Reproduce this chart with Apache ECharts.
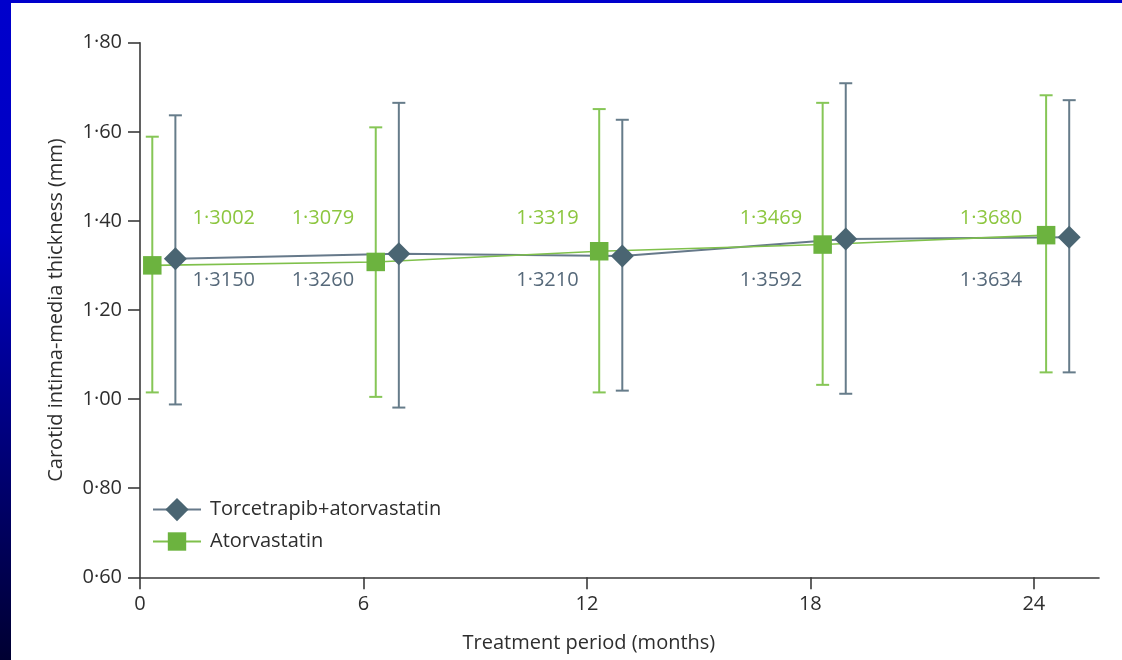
<!DOCTYPE html>
<html>
<head>
<meta charset="utf-8">
<script src="https://cdn.jsdelivr.net/npm/echarts@6/dist/echarts.min.js"></script>
<style>
  html, body { margin: 0; padding: 0; background: #ffffff; }
  #chart { width: 1122px; height: 660px; }
</style>
</head>
<body>
<div id="chart"></div>
<script>
// Visit schedule (months) and carotid intima-media thickness per arm (mm)
const months = [0, 6, 12, 18, 24];

const atorMean = [1.3002, 1.3079, 1.3319, 1.3469, 1.3680];
const atorLow  = [1.015, 1.005, 1.015, 1.032, 1.060];
const atorHigh = [1.589, 1.610, 1.651, 1.665, 1.682];

const torcMean = [1.3150, 1.3260, 1.3210, 1.3592, 1.3634];
const torcLow  = [0.988, 0.981, 1.019, 1.012, 1.060];
const torcHigh = [1.637, 1.665, 1.627, 1.709, 1.671];

const xTicks = [0, 6, 12, 18, 24];
const yTicks = [0.6, 0.8, 1.0, 1.2, 1.4, 1.6, 1.8];

const TORC = 'Torcetrapib+atorvastatin';
const ATOR = 'Atorvastatin';

// Layout: horizontal dodge of each arm, and where the value captions sit
const DODGE = { ator: 0.33, torc: 0.95 };
const CAPTION_MONTH = [2.25, 4.91, 10.94, 16.94, 22.85];
const CAPTION_ROW = { ator: 1.4066, torc: 1.2673 };

const COL = {
  greenLine: '#7fc04b', greenFill: '#6cb33f', greenText: '#8cc63f', greenBar: '#86c656',
  slateLine: '#66798a', slateFill: '#4a6572', slateText: '#56697a', slateBar: '#667c8a',
  axis: '#3a3a3a', text: '#2e2e2e'
};
const FONT = "'Open Sans', 'Liberation Sans', sans-serif";

const dot = (v, d) => v.toFixed(d).replace('.', '\u00b7');

const chart = echarts.init(document.getElementById('chart'), null, { renderer: 'canvas' });

function errorBar(params, api) {
  const x = api.value(0);
  const lo = api.coord([x, api.value(1)]);
  const hi = api.coord([x, api.value(2)]);
  const hw = 6.5;
  const style = { stroke: api.visual('color'), lineWidth: 2 };
  return {
    type: 'group',
    children: [
      { type: 'line', shape: { x1: lo[0], y1: lo[1], x2: hi[0], y2: hi[1] }, style },
      { type: 'line', shape: { x1: hi[0] - hw, y1: hi[1], x2: hi[0] + hw, y2: hi[1] }, style },
      { type: 'line', shape: { x1: lo[0] - hw, y1: lo[1], x2: lo[0] + hw, y2: lo[1] }, style }
    ]
  };
}

function buildOption(shift) {
  const pts = (mean, dodge) => months.map((m, i) => [m + dodge, mean[i]]);
  const bars = (lo, hi, dodge) => months.map((m, i) => [m + dodge, lo[i], hi[i]]);
  const marks = (mean, dodge, key) => months.map((m, i) => ({
    value: [m + dodge, mean[i]],
    label: { offset: shift ? shift[key][i] : [0, 0] }
  }));

  return {
    animation: false,
    backgroundColor: '#ffffff',
    textStyle: { fontFamily: FONT },
    graphic: [
      {
        type: 'rect', left: 0, top: 0, z: -10, silent: true,
        shape: { width: 11, height: 660 },
        style: {
          fill: new echarts.graphic.LinearGradient(0, 0, 0, 1, [
            { offset: 0, color: '#0000cc' },
            { offset: 0.35, color: '#0000c2' },
            { offset: 1, color: '#000032' }
          ])
        }
      },
      {
        type: 'rect', left: 0, top: 0, z: -10, silent: true,
        shape: { width: 1122, height: 3 }, style: { fill: '#0000cc' }
      },
      {
        type: 'text', id: 'xTitle', z: 5,
        x: shift ? shift.xTitle[0] : 586, y: shift ? shift.xTitle[1] : 644,
        style: {
          text: 'Treatment period (months)', fill: COL.text,
          font: "20px " + FONT, align: 'center', verticalAlign: 'middle'
        }
      }
    ],
    grid: { left: 140, right: 23, top: 42.7, bottom: 82.7, outerBoundsMode: 'none', containLabel: false },
    legend: [
      {
        data: [TORC], left: 152, top: 498, orient: 'vertical', padding: 0,
        itemWidth: 48, itemHeight: 29, selectedMode: false,
        textStyle: { fontSize: 20, color: COL.text, fontFamily: FONT, padding: [0, 0, 0, 4] }
      },
      {
        data: [ATOR], left: 152, top: 531.5, orient: 'vertical', padding: 0,
        itemWidth: 48, itemHeight: 23, selectedMode: false,
        textStyle: { fontSize: 20, color: COL.text, fontFamily: FONT, padding: [0, 0, 0, 4] }
      }
    ],
    xAxis: {
      type: 'value', min: 0, max: 25.75, interval: 6,
      axisLine: { show: true, lineStyle: { color: COL.axis, width: 1.6 } },
      axisTick: { show: true, length: 12, customValues: xTicks, lineStyle: { color: COL.axis, width: 1.6 } },
      axisLabel: {
        customValues: xTicks, margin: 17, fontSize: 20, color: COL.text, fontFamily: FONT,
        formatter: v => String(Math.round(v))
      },
      splitLine: { show: false }
    },
    yAxis: {
      type: 'value', min: 0.6, max: 1.8, interval: 0.2,
      name: 'Carotid intima-media thickness (mm)', nameLocation: 'middle', nameGap: 74,
      nameTextStyle: { fontSize: 20, color: COL.text, fontFamily: FONT },
      axisLine: { show: true, lineStyle: { color: COL.axis, width: 1.6 } },
      axisTick: { show: true, length: 12, customValues: yTicks, lineStyle: { color: COL.axis, width: 1.6 } },
      axisLabel: {
        customValues: yTicks, margin: 18, fontSize: 20, color: COL.text, fontFamily: FONT,
        padding: [4, 0, 0, 0],
        formatter: v => dot(v, 2)
      },
      splitLine: { show: false }
    },
    series: [
      {
        type: 'custom', id: 'atorBars', renderItem: errorBar, z: 1,
        itemStyle: { color: COL.greenBar },
        encode: { x: 0, y: [1, 2] },
        data: bars(atorLow, atorHigh, DODGE.ator)
      },
      {
        type: 'custom', id: 'torcBars', renderItem: errorBar, z: 1,
        itemStyle: { color: COL.slateBar },
        encode: { x: 0, y: [1, 2] },
        data: bars(torcLow, torcHigh, DODGE.torc)
      },
      {
        type: 'line', name: TORC, id: 'torcLine', z: 2,
        symbol: 'diamond', showSymbol: false,
        itemStyle: { color: COL.slateFill },
        lineStyle: { color: COL.slateLine, width: 2 },
        data: pts(torcMean, DODGE.torc)
      },
      {
        type: 'line', name: ATOR, id: 'atorLine', z: 2,
        symbol: 'rect', showSymbol: false,
        itemStyle: { color: COL.greenFill },
        lineStyle: { color: COL.greenLine, width: 1.6 },
        data: pts(atorMean, DODGE.ator)
      },
      {
        type: 'scatter', name: TORC, id: 'torcMarks', z: 3,
        symbol: 'diamond', symbolSize: 23,
        itemStyle: { color: COL.slateFill, opacity: 1 },
        label: {
          show: true, position: 'inside', fontSize: 20, color: COL.slateText, fontFamily: FONT,
          formatter: p => dot(p.value[1], 4)
        },
        data: marks(torcMean, DODGE.torc, 'torc')
      },
      {
        type: 'scatter', name: ATOR, id: 'atorMarks', z: 3,
        symbol: 'rect', symbolSize: 18.5,
        itemStyle: { color: COL.greenFill, opacity: 1 },
        label: {
          show: true, position: 'inside', fontSize: 20, color: COL.greenText, fontFamily: FONT,
          formatter: p => dot(p.value[1], 4)
        },
        data: marks(atorMean, DODGE.ator, 'ator')
      }
    ]
  };
}

// First pass lays out the axes; second pass places captions and the x title
chart.setOption(buildOption(null));

const px = (x, y) => chart.convertToPixel({ gridIndex: 0 }, [x, y]);
const captionShift = (mean, dodge, row) => months.map((m, i) => {
  const at = px(m + dodge, mean[i]);
  const to = px(CAPTION_MONTH[i], row);
  return [to[0] - at[0], to[1] - at[1]];
});
const axisMid = px((xTicks[0] + xTicks[xTicks.length - 1]) / 2, yTicks[0]);

chart.setOption(buildOption({
  ator: captionShift(atorMean, DODGE.ator, CAPTION_ROW.ator),
  torc: captionShift(torcMean, DODGE.torc, CAPTION_ROW.torc),
  xTitle: [axisMid[0] + 2, axisMid[1] + 66]
}), true);
</script>
</body>
</html>
